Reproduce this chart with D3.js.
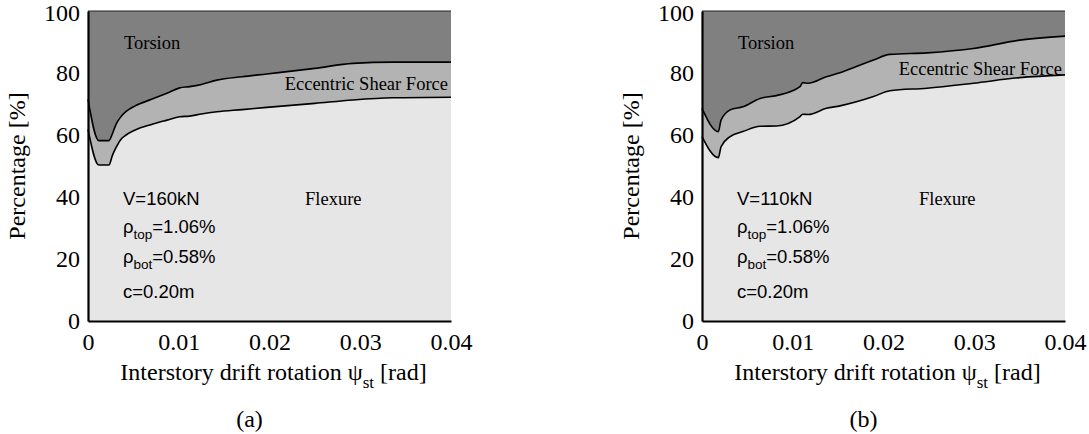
<!DOCTYPE html>
<html>
<head>
<meta charset="utf-8">
<script src="https://cdn.jsdelivr.net/npm/d3@7"></script>
<style>
  body { margin: 0; background: #fff; }
  svg { display: block; }
</style>
</head>
<body>
<svg></svg>
<script>
var width = 1089;
var height = 434;

// x ticks / y ticks
var xTicks = [0, 0.01, 0.02, 0.03, 0.04];
var yTicks = [0, 20, 40, 60, 80, 100];
var keys = ["flexure", "eccentric", "torsion"];

// panel (a): drift [rad], flexure share [%], eccentric shear share [%]
var driftA = [0, 0.0012, 0.0023, 0.0027, 0.0031, 0.0036, 0.0042, 0.0052, 0.0070, 0.0087,
              0.0101, 0.0112, 0.0125, 0.0142, 0.0170, 0.0197, 0.0250, 0.0292, 0.0336, 0.0400];
var flexA = [61.8, 50.3, 50.3, 53.5, 56.0, 58.5, 60.0, 61.6, 63.4, 64.8,
             65.9, 66.1, 66.8, 67.5, 68.2, 68.9, 70.2, 71.3, 72.0, 72.2];
var eccA = [9.7, 7.9, 7.9, 7.0, 7.5, 7.3, 7.6, 7.8, 8.1, 8.7,
            9.3, 9.5, 9.5, 10.2, 10.6, 10.8, 11.3, 11.8, 11.5, 11.3];

// panel (b)
var driftB = [0, 0.0018, 0.0021, 0.0031, 0.0045, 0.0064, 0.0082, 0.0108, 0.0111, 0.0117,
              0.0137, 0.0152, 0.0189, 0.0207, 0.0248, 0.0299, 0.0350, 0.0400];
var flexB = [59.5, 52.7, 56.2, 59.5, 61.1, 62.8, 62.9, 65.9, 66.7, 66.6,
             68.6, 69.4, 72.4, 74.3, 75.1, 76.7, 78.5, 79.4];
var eccB = [9.1, 8.4, 8.6, 8.6, 8.0, 9.0, 9.8, 9.7, 10.2, 10.1,
            10.2, 10.7, 11.8, 11.7, 11.4, 11.2, 12.1, 12.5];

var colors = { flexure: "#e6e6e6", eccentric: "#b3b3b3", torsion: "#808080" };

var svg = d3.select("svg").attr("width", width).attr("height", height);

var serif = "'Liberation Serif', 'Times New Roman', serif";
var sans = "'Liberation Sans', Arial, sans-serif";

function drawPanel(opt) {
    var x = d3.scaleLinear().domain([0, 0.04]).range([opt.left, opt.right]);
    var y = d3.scaleLinear().domain([0, 100]).range([321, 11]);

    var rows = opt.drift.map(function(d, i) {
        return { drift: d, flexure: opt.flex[i], eccentric: opt.ecc[i],
                 torsion: 100 - opt.flex[i] - opt.ecc[i] };
    });
    var series = d3.stack().keys(keys)(rows);

    var g = svg.append("g");

    var area = d3.area()
        .curve(d3.curveMonotoneX)
        .x(function(d) { return x(d.data.drift); })
        .y0(function(d) { return y(d[0]); })
        .y1(function(d) { return y(d[1]); });

    g.selectAll("path.area").data(series).enter().append("path")
        .attr("class", "area")
        .attr("d", area)
        .attr("fill", function(d) { return colors[d.key]; });

    var line = d3.line()
        .curve(d3.curveMonotoneX)
        .x(function(d) { return x(d.data.drift); })
        .y(function(d) { return y(d[1]); });

    g.selectAll("path.bound").data(series.slice(0, 2)).enter().append("path")
        .attr("class", "bound")
        .attr("d", line)
        .attr("fill", "none")
        .attr("stroke", "#000")
        .attr("stroke-width", 1.6);

    // top edge at 100%
    g.append("line")
        .attr("x1", x(0)).attr("x2", x(0.04))
        .attr("y1", y(100)).attr("y2", y(100))
        .attr("stroke", "#222").attr("stroke-width", 1);

    var xAxis = g.append("g")
        .attr("transform", "translate(0," + y(0) + ")")
        .call(d3.axisBottom(x).tickValues(xTicks).tickSize(0).tickSizeOuter(0).tickPadding(12)
            .tickFormat(function(d) { return d === 0 ? "0" : d3.format(".2f")(d); }));
    var yAxis = g.append("g")
        .attr("transform", "translate(" + x(0) + ",0)")
        .call(d3.axisLeft(y).tickValues(yTicks).tickSize(0).tickSizeOuter(0).tickPadding(8));

    [xAxis, yAxis].forEach(function(a) {
        a.select(".domain").attr("stroke", "#000").attr("stroke-width", 2.2);
        a.selectAll("text").attr("font-family", serif).attr("font-size", 24).attr("fill", "#000");
    });
    yAxis.selectAll(".tick text").filter(function(d) { return d === 100; }).attr("dy", "0.38em");

    // axis titles
    var xt = g.append("text")
        .attr("x", (opt.left + opt.right) / 2 + 4)
        .attr("y", 380)
        .attr("text-anchor", "middle")
        .attr("font-family", serif).attr("font-size", 24);
    xt.append("tspan").text("Interstory drift rotation \u03c8");
    xt.append("tspan").attr("font-size", 17).attr("dy", 8).text("st");
    xt.append("tspan").attr("dy", -8).text(" [rad]");

    g.append("text")
        .attr("transform", "translate(" + (opt.left - 63) + ",166) rotate(-90)")
        .attr("text-anchor", "middle")
        .attr("font-family", serif).attr("font-size", 24)
        .text("Percentage [%]");

    g.append("text")
        .attr("x", (opt.left + opt.right) / 2 - 20)
        .attr("y", 427)
        .attr("text-anchor", "middle")
        .attr("font-family", serif).attr("font-size", 24)
        .text(opt.tag);

    // region labels
    var lab = [["Torsion", opt.left + 36, 49, "start"],
               ["Eccentric Shear Force", opt.right - 3, opt.eccY, "end"],
               ["Flexure", opt.left + 217, 205, "start"]];
    lab.forEach(function(l) {
        g.append("text")
            .attr("x", l[1]).attr("y", l[2])
            .attr("text-anchor", l[3])
            .attr("font-family", serif).attr("font-size", 18.5)
            .text(l[0]);
    });

    // parameters
    var px = opt.left + 35;
    g.append("text").attr("x", px).attr("y", 205)
        .attr("font-family", sans).attr("font-size", 18.5)
        .text(opt.load);
    [["top", "=1.06%", 233], ["bot", "=0.58%", 263]].forEach(function(r) {
        var t = g.append("text").attr("x", px).attr("y", r[2])
            .attr("font-family", sans).attr("font-size", 18.5);
        t.append("tspan").text("\u03c1");
        t.append("tspan").attr("font-size", 13.5).attr("dy", 6).text(r[0]);
        t.append("tspan").attr("dy", -6).text(r[1]);
    });
    g.append("text").attr("x", px).attr("y", 298)
        .attr("font-family", sans).attr("font-size", 18.5)
        .text("c=0.20m");
}

drawPanel({ left: 88, right: 451, drift: driftA, flex: flexA, ecc: eccA,
            tag: "(a)", load: "V=160kN", eccY: 90 });
drawPanel({ left: 702, right: 1065, drift: driftB, flex: flexB, ecc: eccB,
            tag: "(b)", load: "V=110kN", eccY: 75 });
</script>
</body>
</html>
